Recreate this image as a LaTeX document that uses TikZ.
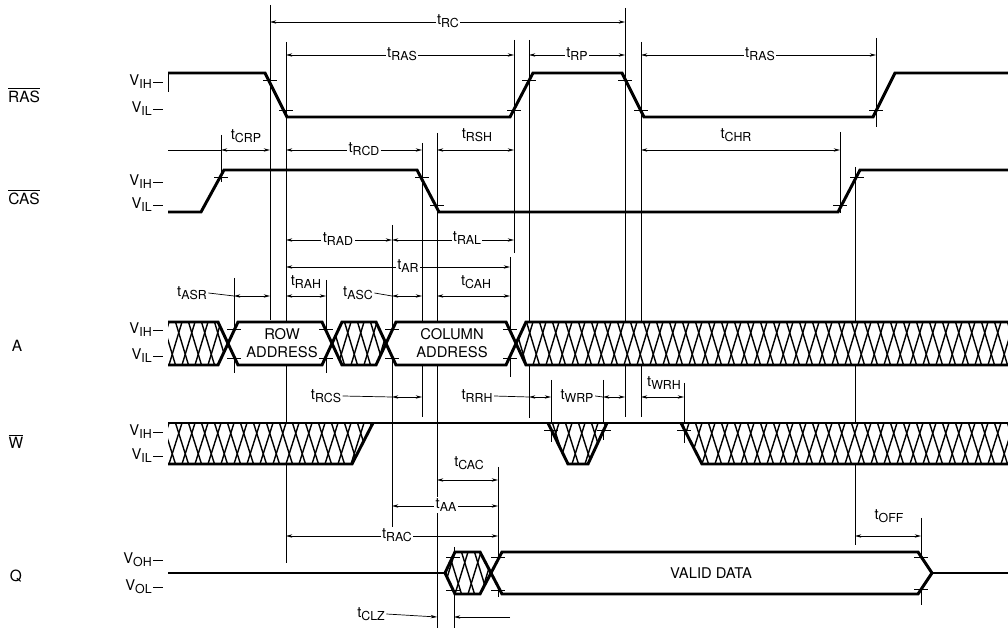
\documentclass[tikz,border=0pt]{standalone}
\usepackage{fontspec}
\setmainfont{TeX Gyre Heros}
\usetikzlibrary{arrows.meta}
\newcommand{\tsb}[1]{t\raisebox{-0.4ex}{\fontsize{8.8}{9}\selectfont #1}}
\newcommand{\vsb}[1]{V\raisebox{-0.4ex}{\fontsize{8.8}{9}\selectfont #1}}
\newcommand{\hatchpoly}[3]{%
  \begin{scope}
    \fill[white] #1;
    \clip #1;
    \foreach \k in {130,143,...,1010}{%
      \draw[hatchl] (\k,#3) -- (\k+13,#2);
      \draw[hatchl] (\k+6.5,#2) -- (\k+19.5,#3);
    }
  \end{scope}}
\newcommand{\tk}[2]{\draw[tickl] (#1-7,#2) -- (#1+7,#2);}
\newcommand{\vlab}[3]{\node[vl, anchor=east] (#3) at (152,#2) {\vsb{#1}}; \draw[ref] (153,#2) -- (163,#2);}
\begin{document}
\begin{tikzpicture}[x=0.025cm,y=-0.025cm,
  sig/.style={line width=2.1pt, line join=miter},
  ref/.style={line width=0.5pt},
  tickl/.style={line width=0.6pt},
  hatchl/.style={line width=1pt},
  dim/.style={line width=0.5pt, {Stealth[length=4.5pt,width=2.4pt]}-{Stealth[length=4.5pt,width=2.4pt]}},
  lbl/.style={font=\fontsize{10.5}{11}\selectfont, inner sep=1pt, fill=white},
  lbn/.style={font=\fontsize{10.5}{11}\selectfont, inner sep=1pt},
  vl/.style={font=\fontsize{10.5}{11}\selectfont, inner sep=0pt},
  sl/.style={font=\fontsize{11}{12}\selectfont, inner sep=0pt},
  bx/.style={font=\fontsize{10.5}{12.5}\selectfont, align=center, inner sep=0pt}]
\fill[white] (0,0) rectangle (1008,628);
\useasboundingbox (0,0) rectangle (1008,628);

% ---------- reference (extension) lines ----------
\foreach \xx/\ya/\yb in {270/5/320, 286/42/563, 221/135/182, 234/278/373, 326/280/373,
  392/225/527, 422/143/417, 437/133/628, 510/257/377, 514/40/253, 529/40/418,
  551/380/442, 603/380/440, 625/8/417, 641/42/417, 684/383/443, 840/132/213,
  855/167/545, 876/38/127, 921/518/605, 498/467/597, 454/547/628, 168/73/92}
  \draw[ref] (\xx,\ya) -- (\xx,\yb);

% ---------- dimension lines ----------
\draw[dim] (270,22) -- (625,22);  \node[lbl] (tRC) at (448,21) {\tsb{RC}};
\draw[dim] (286,55) -- (514,55);  \node[lbl] (tRASa) at (402,54) {\tsb{RAS}};
\draw[dim] (529,55) -- (625,55);  \node[lbl] (tRP) at (577,54) {\tsb{RP}};
\draw[dim] (641,55) -- (876,55);  \node[lbl] (tRASb) at (760,54) {\tsb{RAS}};

\draw[ref] (168,150) -- (221,150);
\draw[dim] (221,150) -- (270,150); \node[lbn] (tCRP) at (246,136) {\tsb{CRP}};
\draw[dim] (286,150) -- (422,150); \node[lbl] (tRCD) at (364,149) {\tsb{RCD}};
\draw[dim] (437,150) -- (514,150); \node[lbn] (tRSH) at (477,135) {\tsb{RSH}};
\draw[dim] (641,150) -- (840,150); \node[lbn] (tCHR) at (736,135) {\tsb{CHR}};

\draw[dim] (286,240) -- (392,240); \node[lbl] (tRAD) at (338,239) {\tsb{RAD}};
\draw[dim] (392,240) -- (514,240); \node[lbl] (tRAL) at (467,238) {\tsb{RAL}};
\draw[dim] (286,267) -- (510,267); \node[lbl] (tAR) at (408,266) {\tsb{AR}};

\node[lbn] (tASR) at (192,293) {\tsb{ASR}};
\draw[ref] (tASR.east) -- (234,296);
\draw[dim] (234,296) -- (270,296);
\draw[dim] (286,296) -- (326,296); \node[lbn] (tRAH) at (306,282) {\tsb{RAH}};
\node[lbn] (tASC) at (358,293) {\tsb{ASC}};
\draw[ref] (tASC.east) -- (392,296);
\draw[dim] (392,296) -- (422,296);
\draw[dim] (437,296) -- (510,296); \node[lbn] (tCAH) at (476,282) {\tsb{CAH}};

\node[lbn] (tRCS) at (326,396) {\tsb{RCS}};
\draw[ref] (tRCS.east) -- (392,397);
\draw[dim] (392,397) -- (422,397);
\node[lbn] (tRRH) at (477,396) {\tsb{RRH}};
\draw[ref] (tRRH.east) -- (529,397);
\draw[dim] (529,397) -- (551,397);
\node[lbn] (tWRP) at (577,396) {\tsb{WRP}};
\draw[ref] (tWRP.east) -- (603,397);
\draw[dim] (603,397) -- (625,397);
\draw[dim] (641,397) -- (684,397); \node[lbn] (tWRH) at (664,383) {\tsb{WRH}};

\draw[dim] (437,480) -- (498,480); \node[lbn] (tCAC) at (469,463) {\tsb{CAC}};
\draw[dim] (392,506) -- (498,506); \node[lbl] (tAA) at (446,505) {\tsb{AA}};
\draw[dim] (286,536) -- (498,536); \node[lbl] (tRAC) at (397,535) {\tsb{RAC}};
\draw[dim] (855,536) -- (921,536); \node[lbn] (tOFF) at (889,516) {\tsb{OFF}};

\node[lbn] (tCLZ) at (371,614) {\tsb{CLZ}};
\draw[ref,-{Stealth[length=4.5pt,width=2.4pt]}] (tCLZ.east) -- (437,617);
\coordinate (clzR) at (510,617);
\draw[ref,-{Stealth[length=4.5pt,width=2.4pt]}] (clzR) -- (454,617);

% ---------- signal names ----------
\node[sl] (nRAS) at (24,95) {$\overline{\mbox{RAS}}$};
\node[sl] (nCAS) at (24,197) {$\overline{\mbox{CAS}}$};
\node[sl] (nA) at (17,346) {A};
\node[sl] (nW) at (16,441) {$\overline{\mbox{W}}$};
\node[sl] (nQ) at (16,576) {Q};

% ---------- level labels ----------
\vlab{IH}{82}{v1}  \vlab{IL}{109}{v2}
\vlab{IH}{182}{v3} \vlab{IL}{205}{v4}
\vlab{IH}{330}{v5} \vlab{IL}{356}{v6}
\vlab{IH}{432}{v7} \vlab{IL}{456}{v8}
\vlab{OH}{560}{v9} \vlab{OL}{587}{v10}

% ---------- RAS ----------
\draw[sig] (168,73) -- (265,73) -- (287,117) -- (510,117) -- (533,73) -- (622,73) -- (644,117) -- (873,117) -- (895,73) -- (1008,73);
\tk{270}{80} \tk{286}{110} \tk{514}{110} \tk{529}{80} \tk{625}{80} \tk{641}{110} \tk{876}{110}

% ---------- CAS ----------
\draw[sig] (168,212) -- (201,212) -- (224,170) -- (417,170) -- (439,212) -- (838,212) -- (860,170) -- (1008,170);
\tk{221}{177} \tk{422}{177} \tk{437}{205} \tk{840}{205} \tk{857}{177}

% ---------- A ----------
\hatchpoly{(168,322) -- (218,322) -- (228,343.5) -- (218,365) -- (168,365) -- cycle}{322}{365}
\hatchpoly{(332,343.5) -- (342,322) -- (376,322) -- (386,343.5) -- (376,365) -- (342,365) -- cycle}{322}{365}
\hatchpoly{(516,343.5) -- (526,322) -- (1008,322) -- (1008,365) -- (526,365) -- cycle}{322}{365}
\draw[sig, fill=white] (228,343.5) -- (238,322) -- (322,322) -- (332,343.5) -- (322,365) -- (238,365) -- cycle;
\draw[sig, fill=white] (386,343.5) -- (396,322) -- (506,322) -- (516,343.5) -- (506,365) -- (396,365) -- cycle;
\draw[sig] (168,322) -- (218,322) -- (228,343.5) -- (218,365) -- (168,365);
\draw[sig] (332,343.5) -- (342,322) -- (376,322) -- (386,343.5) -- (376,365) -- (342,365) -- cycle;
\draw[sig] (1008,322) -- (526,322) -- (516,343.5) -- (526,365) -- (1008,365);
\node[bx] (row) at (282,343) {ROW\\ADDRESS};
\node[bx] (col) at (452,343) {COLUMN\\ADDRESS};
\tk{234}{329} \tk{234}{358} \tk{326}{329} \tk{326}{358}
\tk{392}{329} \tk{392}{358} \tk{510}{329} \tk{510}{358}

% ---------- W ----------
\hatchpoly{(168,423) -- (373,423) -- (352,464) -- (168,464) -- cycle}{423}{464}
\hatchpoly{(548,423) -- (607,423) -- (588,464) -- (568,464) -- cycle}{423}{464}
\hatchpoly{(681,423) -- (1008,423) -- (1008,464) -- (702,464) -- cycle}{423}{464}
\draw[sig] (168,423) -- (1008,423);
\draw[sig] (168,464) -- (352,464) -- (373,423);
\draw[sig] (548,423) -- (568,464) -- (588,464) -- (607,423);
\draw[sig] (681,423) -- (702,464) -- (1008,464);
\tk{551}{430} \tk{604}{430} \tk{684}{430}

% ---------- Q ----------
\draw[sig] (168,573) -- (445,573);
\hatchpoly{(445,573) -- (455,552) -- (480,552) -- (491,573) -- (480,594) -- (455,594) -- cycle}{552}{594}
\draw[sig] (445,573) -- (455,552) -- (480,552) -- (491,573) -- (480,594) -- (455,594) -- cycle;
\draw[sig, fill=white] (491,573) -- (502,552) -- (918,552) -- (932,573) -- (918,594) -- (502,594) -- cycle;
\draw[sig] (932,573) -- (1008,573);
\node[bx] (valid) at (711,573) {VALID DATA};
\tk{453}{557} \tk{453}{590} \tk{498}{557} \tk{498}{590} \tk{921}{557} \tk{921}{589}
\end{tikzpicture}
\end{document}
